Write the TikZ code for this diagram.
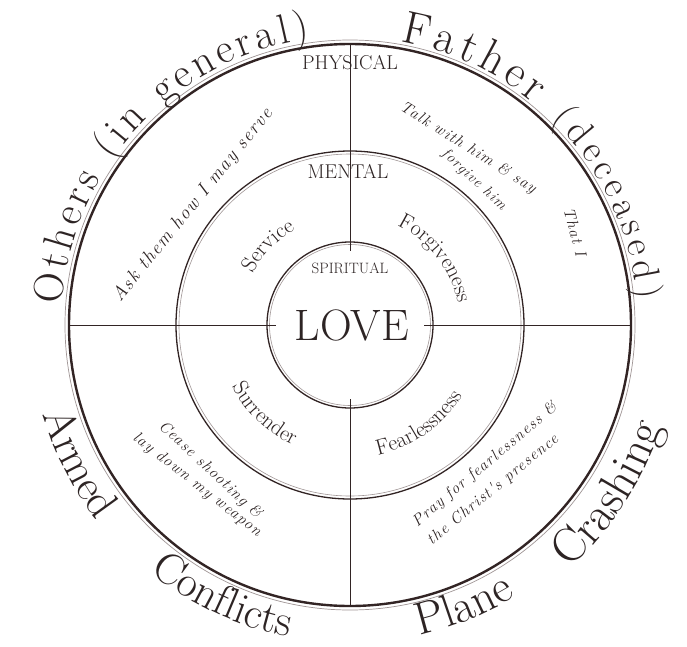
\documentclass[tikz,border=0pt]{standalone}
\usepackage{fontspec}
\usepackage{tikz}
\usetikzlibrary{decorations.text}
\newfontfamily\notefont[LetterSpace=8.0]{Latin Modern Roman}
\definecolor{inkbrown}{RGB}{50,36,36}
\definecolor{inktext}{RGB}{45,36,36}
\definecolor{rimgray}{RGB}{160,150,150}

\begin{document}
\begin{tikzpicture}[x=1pt, y=1pt,
  ring/.style={inkbrown, line width=1.3pt},
  ringthin/.style={rimgray, line width=0.6pt},
  spoke/.style={inkbrown, line width=0.8pt},
  level/.style={text=inktext, inner sep=0pt},
  note/.style={text=inktext, inner sep=0pt, font=\notefont\itshape\fontsize{16}{16}\selectfont},
  arctext/.style={decorate, decoration={text along path, text align=center, text color=inktext}},
  fittext/.style={decorate, decoration={text along path, text align=fit to path, text color=inktext}}]
  \useasboundingbox (-350,-321) rectangle (337,325);
  \fill[white] (-350,-321) rectangle (337,325);
  \coordinate (C) at (0,0);

  % rings
  \draw[rimgray, line width=0.7pt] (C) circle (285);
  \draw[inkbrown, line width=2.4pt] (C) circle (281);
  \draw[ring] (C) circle (174);
  \draw[ringthin] (C) circle (171);
  \draw[ring] (C) circle (83);
  \draw[ringthin] (C) circle (80.5);

  % cross
  \foreach \a/\nm in {0/E,90/N,180/W,270/S} {
    \coordinate (rim\nm) at (\a:281);
    \coordinate (hub\nm) at (\a:74);
    \draw[spoke] (rim\nm) -- (hub\nm);
  }

  % levels
  \node[level, font=\fontsize{20}{20}\selectfont] (physical) at (0,262) {PHYSICAL};
  \node[level, font=\fontsize{20}{20}\selectfont] (mental) at (-2,154) {MENTAL};
  \node[level, font=\fontsize{15}{15}\selectfont] (spiritual) at (0,57) {SPIRITUAL};
  \node[level, font=\fontsize{44}{44}\selectfont] (love) at (2,0) {LOVE};

  % middle ring words
  \path[arctext, decoration={text={|\fontsize{22}{22}\selectfont|Service}}]
    (160:110) arc[start angle=160, end angle=112, radius=110];
  \path[arctext, decoration={text={|\fontsize{22}{22}\selectfont|Forgiveness}}]
    (80:110) arc[start angle=80, end angle=-4, radius=110];
  \path[arctext, decoration={text={|\fontsize{22}{22}\selectfont|Surrender}}]
    (195:133) arc[start angle=195, end angle=257, radius=133];
  \path[arctext, decoration={text={|\fontsize{22}{22}\selectfont|Fearlessness}}]
    (270:133) arc[start angle=270, end angle=340, radius=133];

  % outer words
  \path[fittext, decoration={text={|\fontsize{42}{42}\selectfont|Others (in general)}}]
    (176:289) arc[start angle=176, end angle=98, radius=289];
  \path[fittext, decoration={text={|\fontsize{46}{46}\selectfont|Father |\fontsize{38}{38}\selectfont|(deceased)}}]
    (80:288) arc[start angle=80, end angle=5, radius=288];
  \path[arctext, decoration={text={|\fontsize{44}{44}\selectfont|Armed}}]
    (185:320) arc[start angle=185, end angle=229, radius=320];
  \path[arctext, decoration={text={|\fontsize{44}{44}\selectfont|Conflicts}}]
    (224:318) arc[start angle=224, end angle=266, radius=318];
  \path[arctext, decoration={text={|\fontsize{46}{46}\selectfont|Plane}}]
    (272:318) arc[start angle=272, end angle=312, radius=318];
  \path[arctext, decoration={text={|\fontsize{48}{48}\selectfont|Crashing}}]
    (305:328) arc[start angle=305, end angle=349, radius=328];

  % notes
  \node[note, font=\notefont\itshape\fontsize{19}{19}\selectfont, rotate=51] (ask) at (-157,120) {Ask them how I may serve};
  \node[note, rotate=-32] (talk) at (118,177) {Talk with him \& say};
  \node[note, font=\notefont\itshape\fontsize{15}{15}\selectfont, rotate=-43] (forgive) at (124,145) {forgive him};
  \node[note, rotate=-75] (thatI) at (225,93) {That I};
  \node[note, rotate=-43] (cease) at (-140,-145) {Cease shooting \&};
  \node[note, rotate=-38] (weapon) at (-153,-160) {lay down my weapon};
  \node[note, rotate=40] (pray) at (135,-140) {Pray for fearlessness \&};
  \node[note, rotate=39.5] (christ) at (143,-165) {the Christ's presence};
\end{tikzpicture}
\end{document}
